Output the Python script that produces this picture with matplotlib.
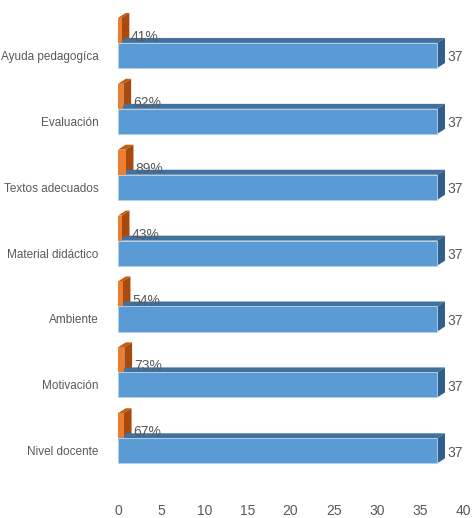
import matplotlib.pyplot as plt
from matplotlib.patches import Polygon
import numpy as np

# datos (de abajo hacia arriba)
categorias = ['Nivel docente', 'Motivación', 'Ambiente', 'Material didáctico',
              'Textos adecuados', 'Evaluación', 'Ayuda pedagogíca']
total = [37, 37, 37, 37, 37, 37, 37]
porcentaje = [0.67, 0.73, 0.54, 0.43, 0.89, 0.62, 0.41]

plt.rcParams['font.family'] = ['Liberation Sans', 'DejaVu Sans']
gris = '#595959'

fig = plt.figure(figsize=(4.74, 5.18), dpi=100)
ax = fig.add_axes([0.249, 0.04, 0.728, 0.94])

y = np.arange(len(categorias))
h = 0.38
dx, dy = 0.9, 0.075  # profundidad "3D"
off = 0.38


def barra3d(yc, v, frente, lado, arriba, borde='none'):
    y0, y1 = yc - h / 2, yc + h / 2
    ax.add_patch(Polygon([(0, y1), (v, y1), (v + dx, y1 + dy), (dx, y1 + dy)],
                         closed=True, color=arriba, lw=0, zorder=1))
    ax.add_patch(Polygon([(v, y0), (v, y1), (v + dx, y1 + dy), (v + dx, y0 + dy)],
                         closed=True, color=lado, lw=0, zorder=1))
    ax.barh(yc, v, height=h, color=frente, edgecolor=borde, linewidth=0.6, zorder=2)


for yi, t, p in zip(y, total, porcentaje):
    barra3d(yi + off, p, '#ed7d31', '#a84a0e', '#c55a11')
    barra3d(yi, t, '#5b9bd5', '#2f5f8a', '#41719c', borde='#b4cfee')
    ax.text(t + dx + 0.3, yi - 0.03, str(t), va='center', ha='left',
            fontsize=10, color=gris)
    ax.text(p + dx + 0.2, yi + off - 0.1, f'{round(p * 100)}%', va='center',
            ha='left', fontsize=10, color=gris, zorder=3)

ax.set_xlim(0, 40)
ax.set_ylim(-0.706, 6.684)
ax.set_xticks(range(0, 41, 5))
ax.set_yticks(y)
ax.set_yticklabels(categorias)
ax.tick_params(length=0, labelsize=8.5, colors=gris)
ax.tick_params(axis='y', pad=14)
ax.tick_params(axis='x', pad=5, labelsize=10)
for s in ax.spines.values():
    s.set_visible(False)

plt.savefig('out.png')
